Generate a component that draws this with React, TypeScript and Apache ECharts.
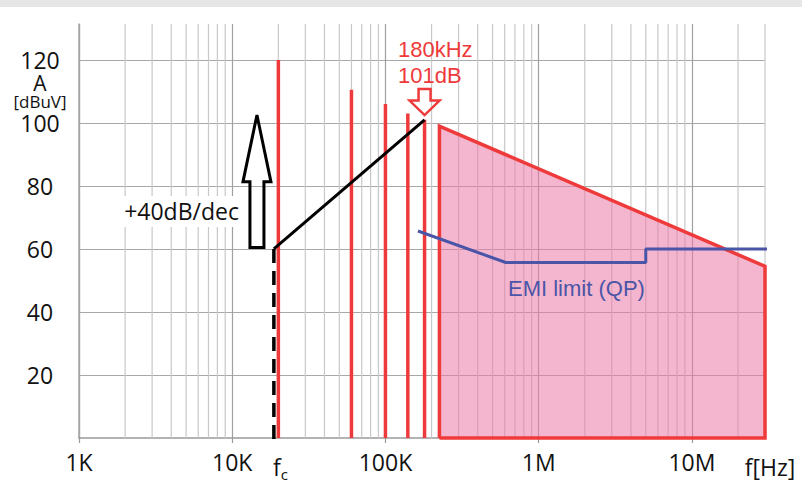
import React, { useEffect, useRef } from "react";
import * as echarts from "echarts";

// ---- data ----
const decadeTicks = [1e3, 1e4, 1e5, 1e6, 1e7];
const decadeLabels = ["1K", "10K", "100K", "1M", "10M"];
const minorMultipliers = [2, 3, 4, 5, 6, 7, 8, 9];
const lastDecadeMinor = [2e7, 3e7];

const harmonicFreqs = [20000, 60000, 100000, 140000, 180000];
const harmonicLevels = [120, 110.5, 106, 103, 101];

const envelopeFreqs = [225000, 225000, 30000000, 30000000, 225000];
const envelopeLevels = [0, 99, 54.5, 0, 0];

const fcFreq = 18700;
const slopeFreqs = [fcFreq, 180000];
const slopeLevels = [60, 101];
const fcDropLevels = [60, -2.5];

const emiFreqs = [163000, 610000, 5000000, 5000000, 31000000];
const emiLevels = [65.7, 55.7, 55.7, 60, 60];

const yTicks = [20, 40, 60, 80, 100, 120];
const Y_MAX = 131.4;

const RED = "#ee3a3a";
const BLUE = "#4a55a8";
const AXIS_FONT = '"Open Sans", "Noto Sans", sans-serif';
const ANN_FONT = '"Liberation Sans", Arial, sans-serif';

const zip = (xs: number[], ys: number[]) => xs.map((x, i) => [x, ys[i]]);

export default function App() {
  const ref = useRef<HTMLDivElement>(null);

  useEffect(() => {
    if (!ref.current) return;
    const chart = echarts.init(ref.current, undefined, { renderer: "svg" });

    const minorGrid: number[] = [];
    for (const d of decadeTicks.slice(0, 4)) for (const m of minorMultipliers) minorGrid.push(d * m);
    minorGrid.push(...lastDecadeMinor);

    const xLabel = (v: number) => {
      const i = decadeTicks.findIndex((d) => Math.abs(d - v) / d < 1e-6);
      return i >= 0 ? decadeLabels[i] : "";
    };

    const option: any = {
      animation: false,
      backgroundColor: "#ffffff",
      grid: { left: 79, top: 24, right: 37, bottom: 46, containLabel: false },
      xAxis: {
        type: "log",
        logBase: 10,
        min: 1000,
        max: 3e7,
        axisLine: { show: true, onZero: false, lineStyle: { color: "#9a9a9a", width: 1.5 } },
        axisTick: { show: true, length: 5, lineStyle: { color: "#9a9a9a", width: 1.2 } },
        axisLabel: {
          formatter: xLabel,
          fontFamily: AXIS_FONT,
          fontSize: 23,
          color: "#111",
          margin: 12,
          showMaxLabel: false,
        },
        splitLine: { show: true, showMaxLine: false, lineStyle: { color: "#a0a0a0", width: 1.2 } },
        minorTick: { show: false },
      },
      yAxis: {
        type: "value",
        min: 0,
        max: Y_MAX,
        interval: 20,
        axisLine: { show: true, lineStyle: { color: "#a8a8a8", width: 1.5 } },
        axisTick: { show: false },
        axisLabel: {
          formatter: (v: number) => (yTicks.some((t) => Math.abs(t - v) < 1e-6) ? String(Math.round(v)) : ""),
          align: "center",
          margin: 39,
          fontFamily: AXIS_FONT,
          fontSize: 23,
          lineHeight: 18,
          color: "#111",
        },
        splitLine: {
          show: true,
          showMaxLine: false,
          showMinLine: false,
          lineStyle: { color: "#a8a8a8", width: 1.2 },
        },
      },
      series: [
        ...minorGrid.map((v) => ({
          type: "line",
          data: [
            [v, 0],
            [v, Y_MAX],
          ],
          z: 1,
          silent: true,
          symbol: "none",
          lineStyle: { color: "#c8c8c8", width: 1.2 },
        })),
        {
          type: "line",
          data: zip(envelopeFreqs, envelopeLevels),
          z: 3,
          symbol: "none",
          clip: false,
          lineStyle: { color: RED, width: 3.5, join: "miter" },
          areaStyle: { color: "rgb(235,120,165)", opacity: 0.55 },
        },
        ...harmonicFreqs.map((f, i) => ({
          type: "line",
          data: [
            [f, 0],
            [f, harmonicLevels[i]],
          ],
          z: 4,
          symbol: "none",
          clip: false,
          lineStyle: { color: RED, width: 3.5 },
        })),
        {
          type: "line",
          data: zip([fcFreq, fcFreq], fcDropLevels),
          z: 5,
          symbol: "none",
          clip: false,
          lineStyle: { color: "#000", width: 3.5, type: [14, 8] },
        },
        {
          type: "line",
          data: zip(slopeFreqs, slopeLevels),
          z: 6,
          symbol: "none",
          clip: false,
          lineStyle: { color: "#000", width: 3 },
        },
        {
          type: "line",
          data: zip(emiFreqs, emiLevels),
          z: 6,
          symbol: "none",
          clip: false,
          lineStyle: { color: BLUE, width: 3 },
        },
      ],
    };

    chart.setOption(option);

    const p = (x: number, y: number) =>
      chart.convertToPixel({ xAxisIndex: 0, yAxisIndex: 0 }, [x, y]) as number[];

    // black up arrow
    const bb = p(14500, 60.5);
    const bh = p(14500, 81.3);
    const bt = p(14500, 102.5);
    const bx = bb[0];
    const blackArrow = [
      [bx - 7, bb[1]],
      [bx - 7, bh[1]],
      [bx - 14, bh[1]],
      [bx, bt[1]],
      [bx + 14, bh[1]],
      [bx + 7, bh[1]],
      [bx + 7, bb[1]],
    ];
    // red down arrow
    const rt = p(180000, 110.8);
    const rh = p(180000, 107.1);
    const rp = p(180000, 102.5);
    const rx = rt[0];
    const redArrow = [
      [rx - 6, rt[1]],
      [rx + 6, rt[1]],
      [rx + 6, rh[1]],
      [rx + 15, rh[1]],
      [rx, rp[1]],
      [rx - 15, rh[1]],
      [rx - 6, rh[1]],
    ];
    const fcPix = p(fcFreq, 0);

    chart.setOption({
      graphic: [
        { type: "rect", z: 100, shape: { x: 0, y: 0, width: 802, height: 7 }, style: { fill: "#e6e6e6" } },
        {
          type: "text", z: 100, x: 40, y: 91.5,
          style: {
            text: "{a|A}\n{b|[dBuV]}",
            fill: "#111",
            align: "center",
            verticalAlign: "middle",
            rich: {
              a: { fontFamily: AXIS_FONT, fontSize: 21, lineHeight: 20, fill: "#111", align: "center" },
              b: { fontFamily: AXIS_FONT, fontSize: 17, lineHeight: 17, fill: "#111", align: "center" },
            },
          },
        },
        { type: "rect", z: 100, shape: { x: 112, y: 196, width: 134, height: 31 }, style: { fill: "#ffffff" } },
        {
          type: "text", z: 101, x: 239, y: 211,
          style: { text: "+40dB/dec", fontFamily: AXIS_FONT, fontSize: 23, fill: "#111", align: "right", verticalAlign: "middle" },
        },
        {
          type: "polygon", z: 102, shape: { points: blackArrow },
          style: { fill: "none", stroke: "#000", lineWidth: 3, lineJoin: "miter" },
        },
        {
          type: "polygon", z: 102, shape: { points: redArrow },
          style: { fill: "none", stroke: RED, lineWidth: 2.5, lineJoin: "miter" },
        },
        {
          type: "text", z: 101, x: 398, y: 49,
          style: { text: "180kHz", fontFamily: ANN_FONT, fontSize: 22, fill: RED, align: "left", verticalAlign: "middle" },
        },
        {
          type: "text", z: 101, x: 398, y: 75,
          style: { text: "101dB", fontFamily: ANN_FONT, fontSize: 22, fill: RED, align: "left", verticalAlign: "middle" },
        },
        {
          type: "text", z: 101, x: 508, y: 288,
          style: { text: "EMI limit (QP)", fontFamily: ANN_FONT, fontSize: 22, fill: BLUE, align: "left", verticalAlign: "middle" },
        },
        {
          type: "text", z: 101, x: fcPix[0] + 3, y: 467,
          style: { text: "f", fontFamily: AXIS_FONT, fontSize: 23, fill: "#111", align: "center", verticalAlign: "middle" },
        },
        {
          type: "text", z: 101, x: fcPix[0] + 10.5, y: 474,
          style: { text: "c", fontFamily: AXIS_FONT, fontSize: 15, lineHeight: 12, fill: "#111", align: "center", verticalAlign: "middle" },
        },
        {
          type: "text", z: 101, x: 770, y: 467,
          style: { text: "f[Hz]", fontFamily: AXIS_FONT, fontSize: 23, fill: "#111", align: "center", verticalAlign: "middle" },
        },
      ],
    });

    return () => chart.dispose();
  }, []);

  return (
    <div
      ref={ref}
      style={{ position: "fixed", left: 0, top: 0, width: 802, height: 484, background: "#fff" }}
    />
  );
}
